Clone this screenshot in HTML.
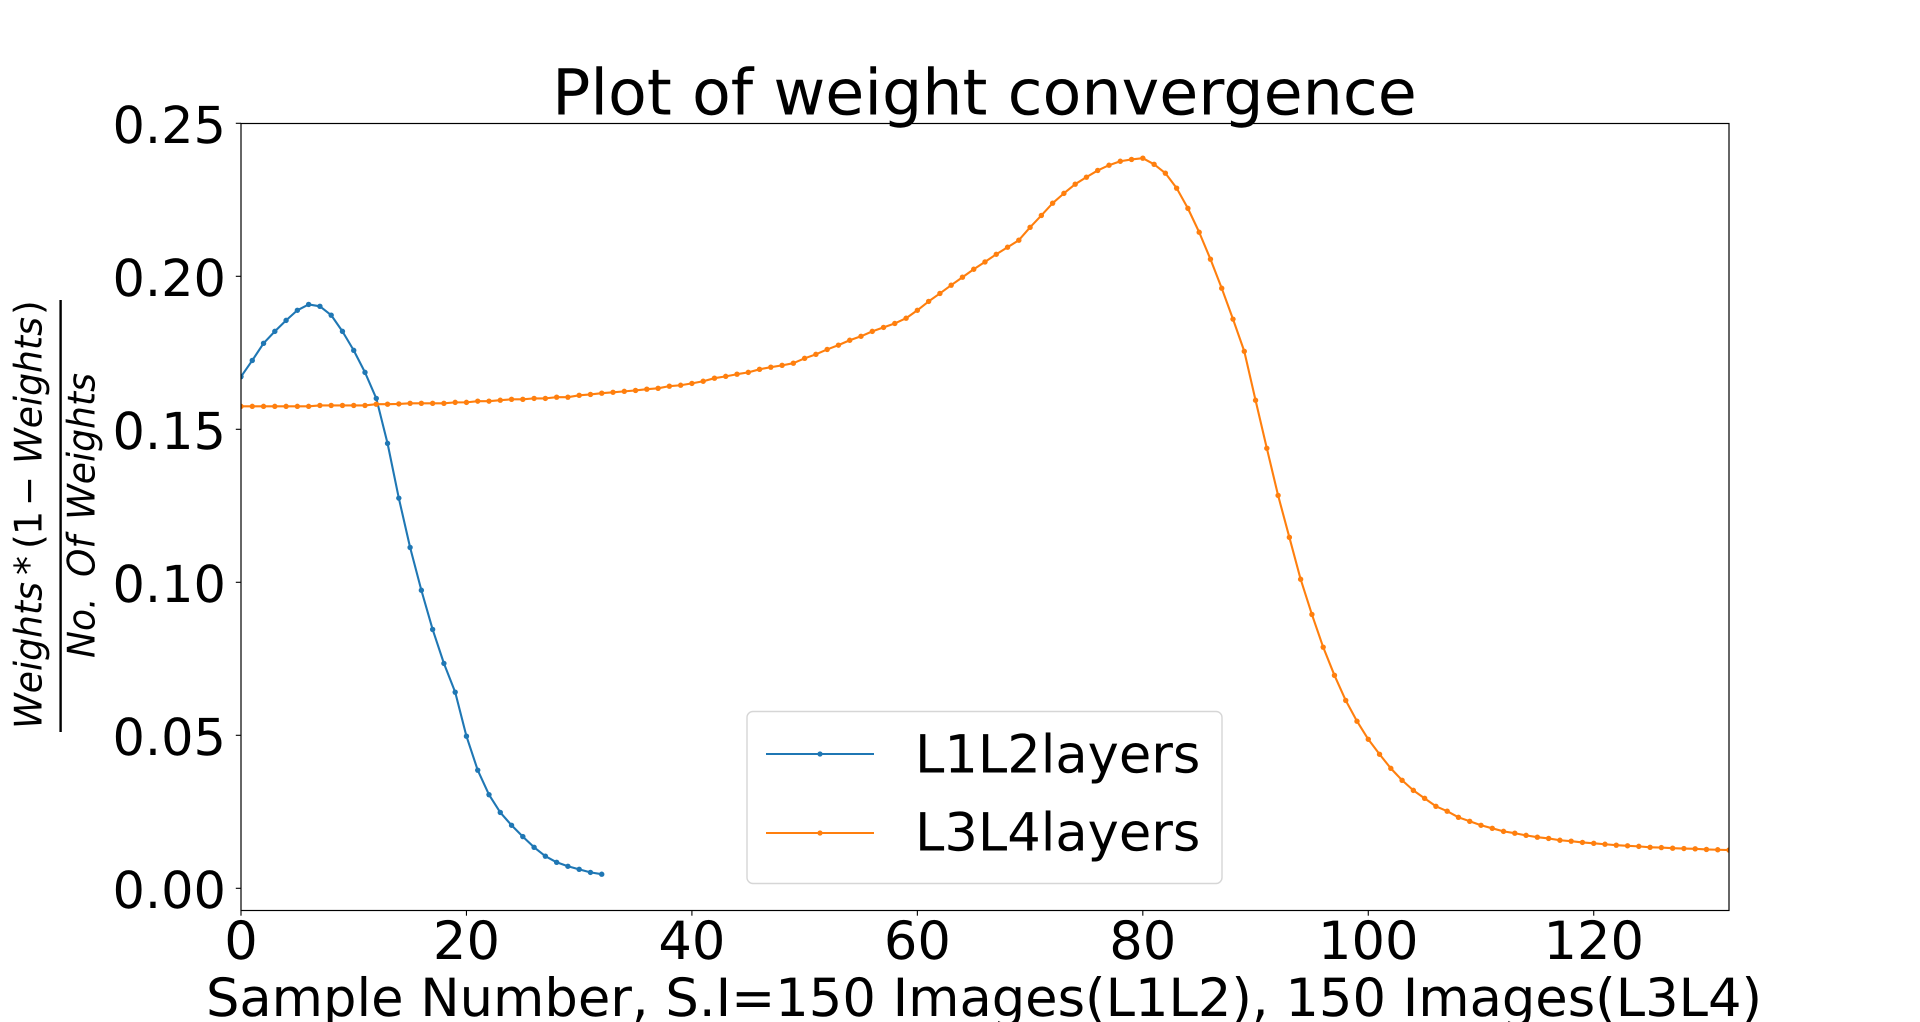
<!DOCTYPE html>
<html lang="en">
<head>
<meta charset="utf-8">
<title>Plot of weight convergence</title>
<style>
html,body{margin:0;padding:0;background:#fff;width:1920px;height:1022px;overflow:hidden}
svg{display:block}
text{font-family:"DejaVu Sans","Liberation Sans",sans-serif;fill:#000;text-rendering:geometricPrecision}
</style>
</head>
<body>
<svg id="chart" xmlns="http://www.w3.org/2000/svg" width="1920" height="1022" viewBox="0 0 1920 1022">
  <defs><clipPath id="plot-clip"><rect x="241" y="123.5" width="1488" height="787"/></clipPath></defs>
  <rect x="0" y="0" width="1920" height="1022" fill="#fff"/>
  <text x="984.5" y="114.5" font-size="63.5" text-anchor="middle">Plot of weight convergence</text>
  <g id="ticks"></g>
  <g id="series" clip-path="url(#plot-clip)"></g>
  <rect x="241" y="123.5" width="1488" height="787" fill="none" stroke="#000" stroke-width="1.2"/>
  <text x="984" y="1016" font-size="52.7" text-anchor="middle">Sample Number, S.I=150 Images(L1L2), 150 Images(L3L4)</text>
  <g font-size="38">
    <text transform="translate(41.7,729) rotate(-90)" font-style="italic" textLength="147" lengthAdjust="spacingAndGlyphs">Weights</text>
    <text transform="translate(41.7,575) rotate(-90)">*</text>
    <text transform="translate(41.7,549) rotate(-90)">(</text>
    <text transform="translate(41.7,535) rotate(-90)">1</text>
    <text transform="translate(41.7,506) rotate(-90)" textLength="30" lengthAdjust="spacingAndGlyphs">−</text>
    <text transform="translate(41.7,464) rotate(-90)" font-style="italic" textLength="147" lengthAdjust="spacingAndGlyphs">Weights</text>
    <text transform="translate(41.7,315) rotate(-90)">)</text>
    <rect x="59.4" y="300" width="2.4" height="432" fill="#000"/>
    <text transform="translate(94.3,658) rotate(-90)" font-style="italic" textLength="60.6" lengthAdjust="spacingAndGlyphs">No.</text>
    <text transform="translate(94.3,577) rotate(-90)" font-style="italic" textLength="41" lengthAdjust="spacingAndGlyphs">Of</text>
    <text transform="translate(94.3,520) rotate(-90)" font-style="italic" textLength="147" lengthAdjust="spacingAndGlyphs">Weights</text>
  </g>
  <g id="legend">
    <rect x="747" y="711.5" width="475" height="172" rx="6" ry="6" fill="#fff" fill-opacity="0.8" stroke="#ccc" stroke-opacity="0.8" stroke-width="1.4"/>
    <g>
      <line x1="766" y1="754" x2="874" y2="754" stroke="#1f77b4" stroke-width="2.1"/>
      <circle cx="820" cy="754" r="2.6" fill="#1f77b4"/>
      <text x="915" y="772.5" font-size="52.7">L1L2layers</text>
    </g>
    <g>
      <line x1="766" y1="833" x2="874" y2="833" stroke="#ff7f0e" stroke-width="2.1"/>
      <circle cx="820" cy="833" r="2.6" fill="#ff7f0e"/>
      <text x="915" y="850.5" font-size="52.7">L3L4layers</text>
    </g>
  </g>
</svg>
<script>
var xTickValues = [0, 20, 40, 60, 80, 100, 120];
var xTickLabels = ["0", "20", "40", "60", "80", "100", "120"];
var yTickValues = [0, 0.05, 0.10, 0.15, 0.20, 0.25];
var yTickLabels = ["0.00", "0.05", "0.10", "0.15", "0.20", "0.25"];
var l1l2Values = [0.1672, 0.1725, 0.1781, 0.1820, 0.1856, 0.1889, 0.1908, 0.1902, 0.1873, 0.1820, 0.1758, 0.1686, 0.1601, 0.1454, 0.1275, 0.1114, 0.0974, 0.0846, 0.0735, 0.0641, 0.0497, 0.0386, 0.0306, 0.0248, 0.0206, 0.0169, 0.0134, 0.0105, 0.0085, 0.0072, 0.0062, 0.0052, 0.0046];
var l3l4Values = [0.1575, 0.1575, 0.1575, 0.1575, 0.1575, 0.1575, 0.1575, 0.1578, 0.1578, 0.1578, 0.1578, 0.1578, 0.1582, 0.1582, 0.1583, 0.1585, 0.1585, 0.1585, 0.1585, 0.1588, 0.1588, 0.1592, 0.1592, 0.1595, 0.1598, 0.1598, 0.1601, 0.1601, 0.1605, 0.1605, 0.1611, 0.1614, 0.1618, 0.1621, 0.1624, 0.1627, 0.1631, 0.1634, 0.1641, 0.1644, 0.1650, 0.1657, 0.1667, 0.1673, 0.1680, 0.1686, 0.1696, 0.1703, 0.1709, 0.1716, 0.1732, 0.1745, 0.1761, 0.1775, 0.1791, 0.1804, 0.1820, 0.1833, 0.1846, 0.1863, 0.1889, 0.1918, 0.1944, 0.1971, 0.1997, 0.2023, 0.2047, 0.2072, 0.2095, 0.2118, 0.2160, 0.2199, 0.2239, 0.2271, 0.2301, 0.2324, 0.2346, 0.2363, 0.2376, 0.2382, 0.2386, 0.2366, 0.2337, 0.2288, 0.2222, 0.2144, 0.2056, 0.1961, 0.1860, 0.1755, 0.1595, 0.1438, 0.1284, 0.1147, 0.1010, 0.0895, 0.0788, 0.0696, 0.0614, 0.0546, 0.0487, 0.0438, 0.0392, 0.0353, 0.0320, 0.0294, 0.0268, 0.0252, 0.0232, 0.0219, 0.0206, 0.0196, 0.0186, 0.0180, 0.0173, 0.0167, 0.0163, 0.0157, 0.0154, 0.0150, 0.0147, 0.0144, 0.0141, 0.0139, 0.0137, 0.0134, 0.0133, 0.0131, 0.0130, 0.0129, 0.0127, 0.0126, 0.0125];

var NS = 'http://www.w3.org/2000/svg';
function xScale(v) { return 241 + v * (1729 - 241) / 132; }
function yScale(v) { return 888.3 - v * 3060; }
function make(tag, attrs, parent) {
  var el = document.createElementNS(NS, tag);
  for (var k in attrs) el.setAttribute(k, attrs[k]);
  parent.appendChild(el);
  return el;
}
var ticksGroup = document.getElementById('ticks');
var seriesGroup = document.getElementById('series');

xTickValues.forEach(function (v, i) {
  var x = xScale(v);
  var mark = make('line', {x1: x, x2: x, y1: 910.5, y2: 915.7, stroke: '#000', 'stroke-width': 1.1}, ticksGroup);
  
  
  var label = make('text', {x: x, y: 959, 'font-size': 52.7, 'text-anchor': 'middle'}, ticksGroup);
  
  
  label.textContent = xTickLabels[i];
});
yTickValues.forEach(function (v, i) {
  var y = yScale(v);
  var mark = make('line', {x1: 235.8, x2: 241, y1: y, y2: y, stroke: '#000', 'stroke-width': 1.1}, ticksGroup);
  
  
  var label = make('text', {x: 226, y: y + 19.5, 'font-size': 51, 'text-anchor': 'end'}, ticksGroup);
  
  
  label.textContent = yTickLabels[i];
});

function drawSeries(values, color) {
  var points = values.map(function (v, i) { return xScale(i).toFixed(2) + ',' + yScale(v).toFixed(2); }).join(' ');
  var line = make('polyline', {points: points, fill: 'none', stroke: color, 'stroke-width': 2.1, 'stroke-linejoin': 'round'}, seriesGroup);
  
  
  values.forEach(function (v, i) {
    var dot = make('circle', {cx: xScale(i), cy: yScale(v), r: 2.7, fill: color}, seriesGroup);
    
    
  });
}
drawSeries(l1l2Values, '#1f77b4');
drawSeries(l3l4Values, '#ff7f0e');
</script>
</body>
</html>
